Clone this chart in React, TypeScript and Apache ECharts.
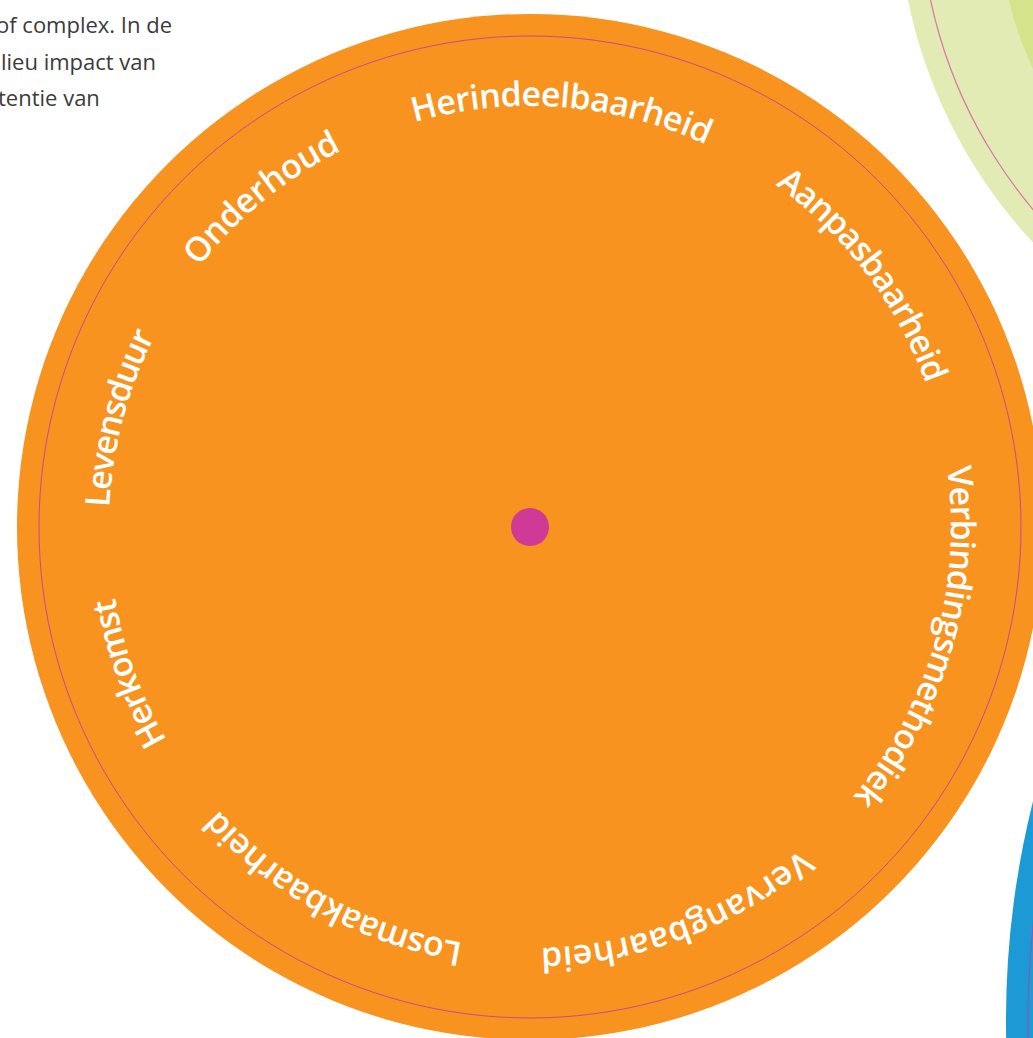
import React, { useEffect, useRef } from "react";
import * as echarts from "echarts";

// Labels around the wheel (clockwise from the top)
const LABELS = [
  "Herindeelbaarheid",
  "Aanpasbaarheid",
  "Verbindingsmethodiek",
  "Vervangbaarheid",
  "Losmaakbaarheid",
  "Herkomst",
  "Levensduur",
  "Onderhoud",
];
// angle (deg, clockwise from top) of first and last character centres
const START_ANGLES = [-14.2, 37.2, 83.3, 141.3, 190.4, 241.3, 273.9, 310.0];
const END_ANGLES = [23.3, 68.7, 128.6, 177.1, 226.4, 259.4, 296.0, 332.0];

// Partial body text at the top-left
const BODY_LINES = ["of complex. In de", "lieu impact van", "tentie van"];

const W = 1033;
const H = 1038;
const CX = 530;
const CY = 527;
const R_OUT = 513;
const R_TEXT = 434;
const LABEL_FONT_SIZE = 34;
const LABEL_FONT = '"Open Sans", "Noto Sans", sans-serif';

export default function App() {
  const ref = useRef<HTMLDivElement>(null);

  useEffect(() => {
    document.body.style.margin = "0";
    if (!ref.current) return;
    const chart = echarts.init(ref.current, undefined, { renderer: "svg" });

    const canvas = document.createElement("canvas");
    const ctx = canvas.getContext("2d")!;
    ctx.font = `600 ${LABEL_FONT_SIZE}px ${LABEL_FONT}`;

    const option: any = {
      animation: false,
      backgroundColor: "#ffffff",
      polar: { center: [CX, CY], radius: R_OUT },
      angleAxis: {
        type: "value",
        min: 0,
        max: 360,
        startAngle: 90,
        clockwise: true,
        show: false,
      },
      radiusAxis: { type: "value", min: 0, max: R_OUT, show: false },
      graphic: [
        // green circle top right
        { type: "circle", z: 0, shape: { cx: 1400, cy: -100, r: 502 }, style: { fill: "#e2ebb4" } },
        { type: "circle", z: 0, shape: { cx: 1400, cy: -100, r: 404 }, style: { fill: "#d5e38b" } },
        { type: "circle", z: 0, shape: { cx: 1400, cy: -100, r: 480 }, style: { fill: "none", stroke: "#dc75a6", lineWidth: 1.2 } },
        // blue circle bottom right
        { type: "circle", z: 0, shape: { cx: 1906, cy: 1020, r: 900 }, style: { fill: "#1b9ad6" } },
        { type: "circle", z: 0, shape: { cx: 1906, cy: 1020, r: 878 }, style: { fill: "none", stroke: "#8d5aa6", lineWidth: 1.2 } },
        // orange wheel
        { type: "circle", z: 0, shape: { cx: CX, cy: CY, r: R_OUT }, style: { fill: "#f7931e" } },
        { type: "circle", z: 0, shape: { cx: CX, cy: CY, r: 491 }, style: { fill: "none", stroke: "#d2468f", lineWidth: 1 } },
        { type: "circle", z: 1, shape: { cx: CX, cy: CY, r: 19 }, style: { fill: "#cf3a97" } },
        // body text
        ...BODY_LINES.map((t, i) => ({
          type: "text",
          z: 1,
          x: [-4, 1, -2][i],
          y: 24 + i * 36.7,
          style: {
            text: t,
            fill: "#3b3b3b",
            font: '22px "Open Sans", sans-serif',
            verticalAlign: "middle",
            align: "left",
          },
        })),
      ],
      series: [
        {
          type: "custom",
          coordinateSystem: "polar",
          dimensions: ["r", "a0", "a1", "idx"],
          encode: { radius: 0, angle: 1 },
          data: LABELS.map((_, i) => [R_TEXT, START_ANGLES[i], END_ANGLES[i], i]),
          renderItem: (params: any, api: any) => {
            const r = api.value(0);
            const a0 = api.value(1);
            const a1 = api.value(2);
            const idx = api.value(3);
            const label = LABELS[idx];
            const chars = Array.from(label);
            const widths = chars.map((c) => ctx.measureText(c).width);
            const centers: number[] = [];
            let acc = 0;
            widths.forEach((w) => {
              centers.push(acc + w / 2);
              acc += w;
            });
            const c0 = centers[0];
            const c1 = centers[centers.length - 1];
            const children = chars.map((ch, k) => {
              const a = a0 + ((centers[k] - c0) / (c1 - c0)) * (a1 - a0);
              const p = api.coord([r, a]);
              return {
                type: "text",
                x: p[0],
                y: p[1],
                rotation: (-a * Math.PI) / 180,
                style: {
                  text: ch,
                  fill: "#ffffff",
                  fontSize: LABEL_FONT_SIZE,
                  fontWeight: 600,
                  fontFamily: LABEL_FONT,
                  align: "center",
                  verticalAlign: "middle",
                },
              };
            });
            return { type: "group", children };
          },
          z: 5,
        },
      ],
    };

    chart.setOption(option);
    return () => chart.dispose();
  }, []);

  return (
    <div
      ref={ref}
      style={{ position: "absolute", left: 0, top: 0, width: W, height: H }}
    />
  );
}
